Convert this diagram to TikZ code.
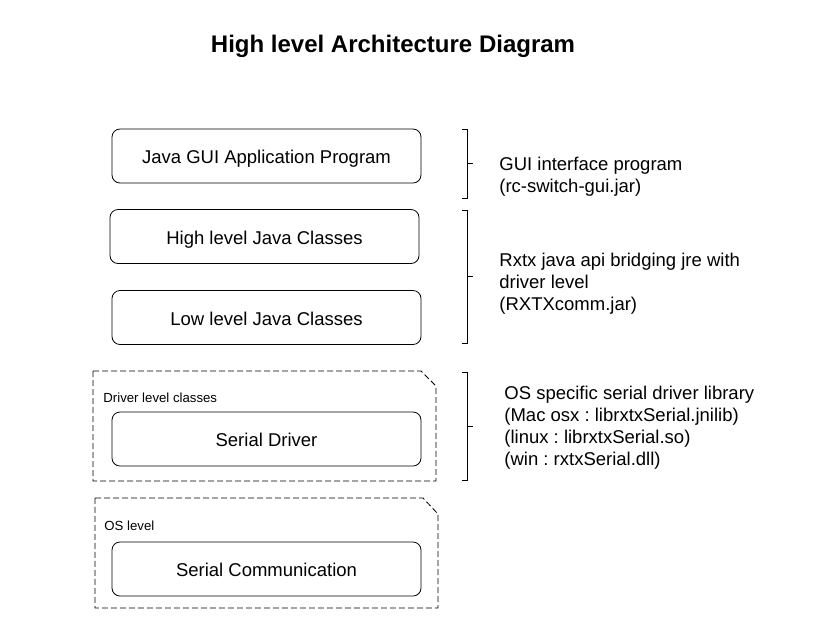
\documentclass[tikz,border=0pt]{standalone}
\usepackage{fontspec}
\setmainfont{Liberation Sans}
\frenchspacing
\begin{document}
\begin{tikzpicture}[x=1pt,y=-1pt,line width=0.8pt,
  block/.style={draw,rounded corners=8pt,minimum width=309pt,minimum height=54pt,inner sep=0pt,text height=15pt,text depth=0pt,font=\fontsize{18.5}{22}\selectfont},
  layer/.style={draw,dash pattern=on 6pt off 3pt},
  tag/.style={anchor=west,inner sep=0pt,font=\fontsize{13.2}{15}\selectfont},
  note/.style={anchor=west,align=left,inner sep=0pt,font=\fontsize{18.5}{22}\selectfont}]
\useasboundingbox (0,0) rectangle (813,633);
\node[font=\bfseries\fontsize{24}{28}\selectfont] (title) at (393,46) {High level Architecture Diagram};
% dashed layers with folded corner
\draw[layer] (93,371)--(421,371)--(436,386)--(436,481)--(93,481)--cycle;
\draw[layer] (95,498)--(423,498)--(438,514)--(438,608)--(95,608)--cycle;
\node[tag] (drvtag) at (103,398) {Driver level classes};
\node[tag] (ostag) at (104,526) {OS level};
% blocks
\node[block] (gui) at (266.5,156) {Java GUI Application Program};
\node[block] (high) at (264.5,236.5) {High level Java Classes};
\node[block] (low) at (266.5,317.5) {Low level Java Classes};
\node[block] (drv) at (266.5,439) {Serial Driver};
\node[block] (comm) at (266.5,569) {Serial Communication};
% brackets
\foreach \t/\b in {129/198,210/343,372/480}{
  \draw (462,\t)--(467,\t)--(467,\b)--(462,\b);
  \draw (467,{(\t+\b)/2})--(473,{(\t+\b)/2});}
\node[note] (guinote) at (499,176.5) {GUI interface program\\(rc-switch-gui.jar)};
\node[note] (rxtxnote) at (499,283.5) {Rxtx java api bridging jre with\\driver level\\(RXTXcomm.jar)};
\node[note] (osnote) at (504,427.5) {OS specific serial driver library\\(Mac osx : librxtxSerial.jnilib)\\(linux : librxtxSerial.so)\\(win : rxtxSerial.dll)};
\end{tikzpicture}
\end{document}
